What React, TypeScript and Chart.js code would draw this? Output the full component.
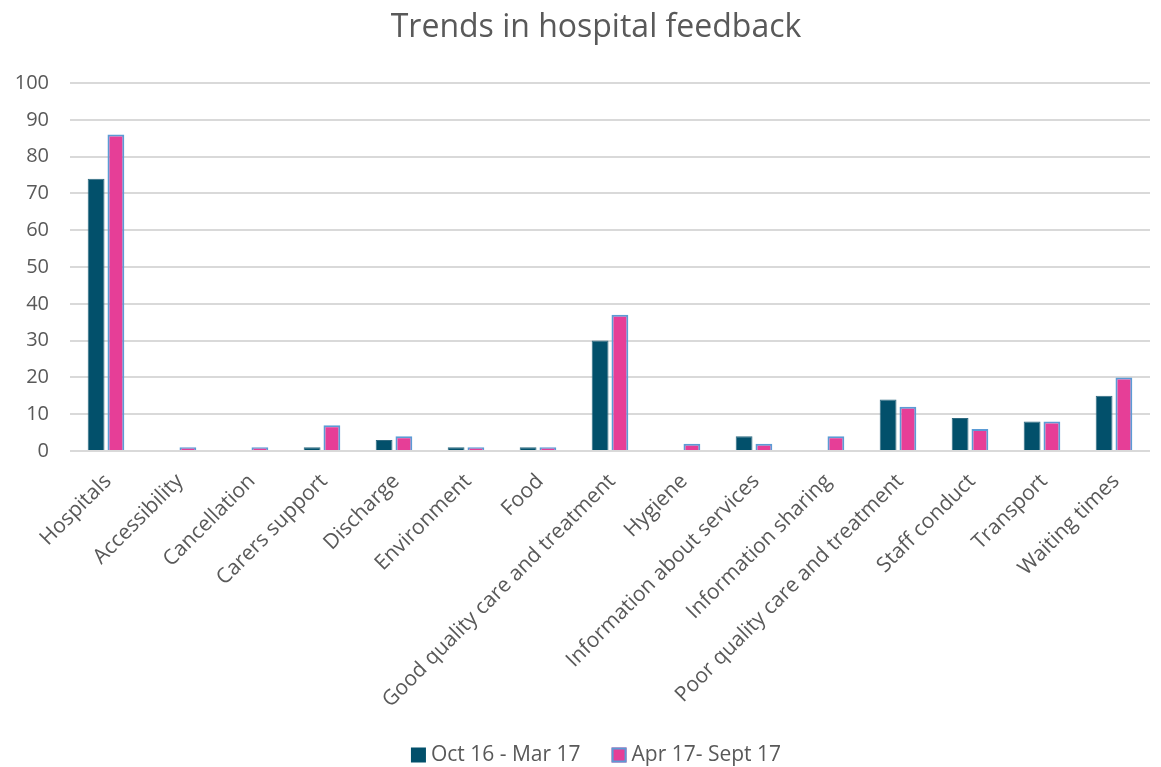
import React, { useEffect, useRef } from "react";
import { Chart, registerables } from "chart.js";

Chart.register(...registerables);

const categories = [
  "Hospitals",
  "Accessibility",
  "Cancellation",
  "Carers support",
  "Discharge",
  "Environment",
  "Food",
  "Good quality care and treatment",
  "Hygiene",
  "Information about services",
  "Information sharing",
  "Poor quality care and treatment",
  "Staff conduct",
  "Transport",
  "Waiting times",
];

const seriesOctMar = [74, 0, 0, 1, 3, 1, 1, 30, 0, 4, 0, 14, 9, 8, 15];
const seriesAprSep = [86, 1, 1, 7, 4, 1, 1, 37, 2, 2, 4, 12, 6, 8, 20];

const seriesNames = ["Oct 16 - Mar 17", "Apr 17- Sept 17"];
const yTicks = [0, 10, 20, 30, 40, 50, 60, 70, 80, 90, 100];
const titleText = "Trends in hospital feedback";

const FONT = "'Open Sans', sans-serif";
const TEXT = "#595959";
const PAD_RIGHT = 11;
const TOP_SPACE = 83;
const LEGEND_SPACE = 40;
const CENTER_X = 596;

const decorations = {
  id: "decorations",
  afterDraw(chart: any) {
    const ctx = chart.ctx;
    ctx.save();
    // title
    ctx.font = `32px ${FONT}`;
    ctx.fillStyle = TEXT;
    ctx.textAlign = "center";
    ctx.textBaseline = "middle";
    ctx.fillText(titleText, CENTER_X, 28);

    // legend
    const fontSize = 21;
    const box = 15;
    const gap = 5;
    const itemGap = 31;
    ctx.font = `${fontSize}px ${FONT}`;
    const items = chart.data.datasets.map((ds: any) => ({
      ds,
      w: box + gap + ctx.measureText(ds.label).width,
    }));
    const total = items.reduce((s: number, it: any) => s + it.w, 0) + itemGap * (items.length - 1);
    let x = CENTER_X - total / 2;
    const cy = chart.height - LEGEND_SPACE / 2 + 8;
    items.forEach((it: any) => {
      const ds = it.ds;
      ctx.fillStyle = ds.backgroundColor;
      ctx.fillRect(x, cy - box / 2, box, box);
      if (ds.borderWidth >= 2) {
        ctx.strokeStyle = ds.borderColor;
        ctx.lineWidth = ds.borderWidth;
        ctx.strokeRect(x + 1, cy - box / 2 + 1, box - 2, box - 2);
      }
      ctx.fillStyle = TEXT;
      ctx.textBaseline = "middle";
      ctx.textAlign = "left";
      ctx.fillText(ds.label, x + box + gap, cy);
      x += it.w + itemGap;
    });
    ctx.restore();
  },
};

export default function App() {
  const ref = useRef<HTMLCanvasElement | null>(null);

  useEffect(() => {
    document.body.style.margin = "0";
    if (!ref.current) return;
    const chart = new Chart(ref.current, {
      type: "bar",
      data: {
        labels: categories,
        datasets: [
          {
            label: seriesNames[0],
            data: seriesOctMar,
            backgroundColor: "#02506b",
            borderColor: "#2f6a80",
            borderWidth: 1,
            barPercentage: 0.85,
            categoryPercentage: 0.55,
          },
          {
            label: seriesNames[1],
            data: seriesAprSep,
            backgroundColor: "#e63e97",
            borderColor: "#5b9bd5",
            borderWidth: 2,
            barPercentage: 0.85,
            categoryPercentage: 0.55,
          },
        ],
      },
      plugins: [decorations],
      options: {
        animation: false,
        responsive: false,
        maintainAspectRatio: false,
        layout: { padding: { left: 0, right: PAD_RIGHT, top: TOP_SPACE, bottom: LEGEND_SPACE } },
        plugins: {
          title: { display: false },
          legend: { display: false },
          tooltip: { enabled: false },
        },
        scales: {
          x: {
            grid: { display: false },
            border: { display: false },
            afterFit: (axis: any) => {
              axis.height = 767 - LEGEND_SPACE - 451;
            },
            ticks: {
              color: TEXT,
              font: { family: FONT, size: 21 },
              minRotation: 45,
              maxRotation: 45,
              autoSkip: false,
              padding: 10,
              labelOffset: 2,
            },
          },
          y: {
            min: 0,
            max: 100,
            afterBuildTicks: (axis: any) => {
              axis.ticks = yTicks.map((v) => ({ value: v }));
            },
            afterFit: (axis: any) => {
              axis.width = 70;
            },
            grid: { color: "#d9d9d9", lineWidth: 2, drawTicks: false },
            border: { display: false },
            ticks: {
              color: TEXT,
              font: { family: FONT, size: 20 },
              padding: 21,
            },
          },
        },
      },
    });
    return () => chart.destroy();
  }, []);

  return (
    <div style={{ position: "fixed", left: 0, top: 0, width: 1161, height: 767 }}>
      <canvas ref={ref} width={1161} height={767} style={{ width: 1161, height: 767 }} />
    </div>
  );
}
